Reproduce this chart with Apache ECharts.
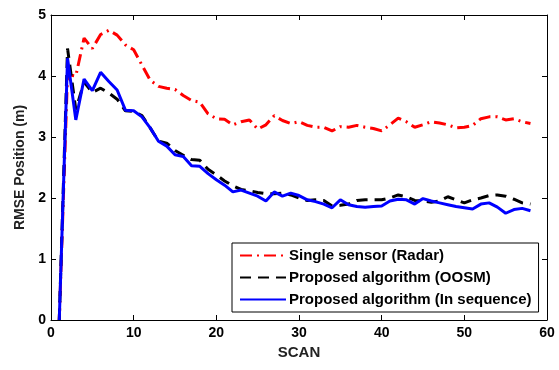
<!DOCTYPE html>
<html><head><meta charset="utf-8">
<script src="https://cdn.jsdelivr.net/npm/echarts@6/dist/echarts.min.js"></script>
<style>html,body{margin:0;padding:0;background:#fff}#c{width:559px;height:370px}</style>
</head><body><div id="c"></div>
<script>
const scans = [];
for (let i = 1; i <= 58; i++) scans.push(i);
const radar = [0,4.02,4.0,4.62,4.45,4.68,4.75,4.67,4.51,4.43,4.18,3.93,3.83,3.80,3.78,3.68,3.60,3.57,3.38,3.30,3.29,3.20,3.25,3.28,3.13,3.20,3.35,3.27,3.22,3.25,3.19,3.16,3.16,3.10,3.17,3.16,3.19,3.16,3.14,3.10,3.20,3.31,3.25,3.16,3.20,3.25,3.23,3.20,3.15,3.16,3.19,3.30,3.33,3.33,3.28,3.30,3.25,3.22];
const oosm = [0,4.45,3.45,3.90,3.73,3.80,3.72,3.62,3.43,3.42,3.35,3.15,2.93,2.90,2.78,2.70,2.63,2.62,2.47,2.38,2.28,2.20,2.14,2.12,2.09,2.07,2.07,2.08,2.05,2.00,1.96,1.97,1.96,1.87,1.88,1.90,1.96,1.97,1.97,1.97,2.00,2.05,2.02,1.96,1.95,1.93,1.95,2.02,1.97,1.92,1.97,2.00,2.04,2.05,2.03,1.98,1.92,1.90];
const inseq = [0,4.29,3.28,3.95,3.76,4.06,3.91,3.77,3.44,3.43,3.33,3.15,2.93,2.85,2.71,2.68,2.53,2.52,2.40,2.30,2.21,2.10,2.13,2.08,2.03,1.95,2.10,2.03,2.08,2.04,1.97,1.94,1.90,1.84,1.97,1.89,1.86,1.85,1.86,1.87,1.95,1.98,1.97,1.90,1.99,1.95,1.92,1.89,1.86,1.84,1.82,1.90,1.92,1.85,1.75,1.81,1.83,1.79];
const seriesNames = ['Single sensor (Radar)','Proposed algorithm (OOSM)','Proposed algorithm (In sequence)'];
const xTicks = [0,10,20,30,40,50,60];
const yTicks = [0,1,2,3,4,5];

const font = 'Liberation Sans, Arial, Helvetica, sans-serif';
const pair = arr => scans.map((s,i)=>[s,arr[i]]);
const chart = echarts.init(document.getElementById('c'), null, {renderer:'canvas'});
const axBase = {
  axisLine:{show:true,onZero:false,lineStyle:{color:'#000',width:1}},
  axisTick:{show:true,inside:true,length:5,lineStyle:{color:'#000'}},
  splitLine:{show:false}
};
chart.setOption({
  animation:false,
  backgroundColor:'#fff',
  grid:{left:51,right:12,top:15,bottom:50,containLabel:false},
  xAxis:[
    Object.assign({type:'value',min:xTicks[0],max:xTicks[xTicks.length-1],interval:10,position:'bottom',
      name:'SCAN',nameLocation:'middle',nameGap:25,
      nameTextStyle:{fontFamily:font,fontWeight:'bold',fontSize:15,color:'#222'},
      axisLabel:{fontFamily:font,fontWeight:'bold',fontSize:14,color:'#000',margin:6}},axBase),
    Object.assign({type:'value',min:0,max:60,interval:10,position:'top',axisLabel:{show:false}},axBase)
  ],
  yAxis:[
    Object.assign({type:'value',min:yTicks[0],max:yTicks[yTicks.length-1],interval:1,position:'left',
      name:'RMSE Position (m)',nameLocation:'middle',nameGap:24,
      nameTextStyle:{fontFamily:font,fontWeight:'bold',fontSize:14,color:'#222'},
      axisLabel:{fontFamily:font,fontWeight:'bold',fontSize:14,color:'#000',margin:5}},axBase),
    Object.assign({type:'value',min:0,max:5,interval:1,position:'right',axisLabel:{show:false}},axBase)
  ],
  legend:{
    orient:'vertical',left:232,top:243,
    backgroundColor:'#fff',borderColor:'#000',borderWidth:1,borderRadius:0,
    padding:[5,7,5,7],itemGap:7,itemWidth:46,itemHeight:14,
    itemStyle:{opacity:0},
    textStyle:{fontFamily:font,fontWeight:'bold',fontSize:15,color:'#000',padding:[0,0,0,-2]},
    data:seriesNames
  },
  series:[
    {name:seriesNames[0],type:'line',data:pair(radar),symbol:'none',
     lineStyle:{color:'#ff0000',width:3,type:[12,5,2,5]},itemStyle:{color:'#ff0000'},z:2},
    {name:seriesNames[1],type:'line',data:pair(oosm),symbol:'none',
     lineStyle:{color:'#000',width:3,type:[11,7]},itemStyle:{color:'#000'},z:3},
    {name:seriesNames[2],type:'line',data:pair(inseq),symbol:'none',
     lineStyle:{color:'#0000ff',width:3},itemStyle:{color:'#0000ff'},z:4}
  ]
});
</script></body></html>
